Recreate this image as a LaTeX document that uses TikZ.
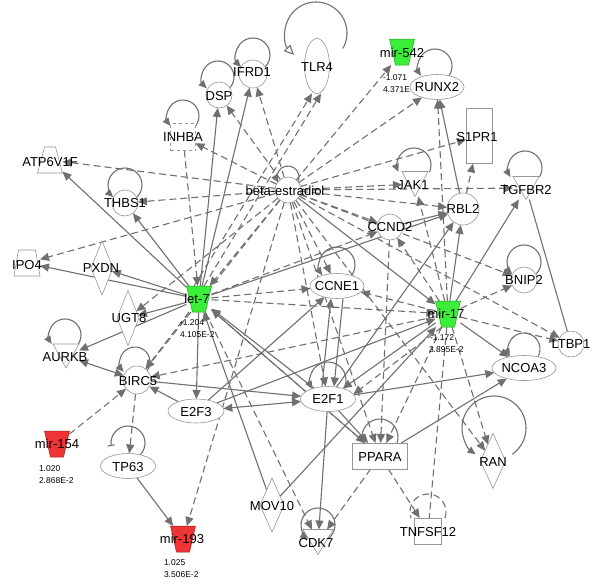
\documentclass[tikz,border=0pt]{standalone}
\usepackage{fontspec}
\setmainfont{Liberation Sans}
\usetikzlibrary{shapes.geometric,arrows.meta}
\pgfdeclarelayer{back}
\pgfdeclarelayer{bg}
\pgfdeclarelayer{lp}
\pgfsetlayers{back,bg,lp,main}
\definecolor{edgec}{RGB}{112,112,112}
\definecolor{nodec}{RGB}{150,150,150}
\definecolor{mgreen}{RGB}{58,238,58}
\definecolor{mred}{RGB}{238,52,52}
\tikzset{
  every node/.style={inner sep=0pt, outer sep=0pt},
  nd/.style={draw=nodec, fill=white, line width=0.6pt},
  circ/.style={nd, circle, minimum size=#1},
  ell/.style 2 args={nd, ellipse, minimum width=#1, minimum height=#2},
  dia/.style 2 args={nd, diamond, minimum width=#1, minimum height=#2},
  box/.style 2 args={nd, rectangle, minimum width=#1, minimum height=#2},
  ghost/.style 2 args={rectangle, minimum width=#1, minimum height=#2},
  lab/.style={font=\fontsize{13}{13}\selectfont},
  val/.style={font=\fontsize{8.5}{9}\selectfont, anchor=west},
  sol/.style={draw=edgec, line width=1.1pt, -{Triangle[length=9pt,width=8pt]}},
  das/.style={sol, dash pattern=on 7pt off 4pt},
  tipboth/.style={{Triangle[length=9pt,width=8pt]}-{Triangle[length=9pt,width=8pt]}},
  lps/.style={draw=edgec, line width=1.1pt, -{Triangle[length=8pt,width=7pt]}},
}
\newcommand\selfloop[6][]{%
  \draw[lps,#1] ([shift={(#5:#4pt)}]#2,#3) arc[start angle=#5, end angle=#6, radius=#4pt];}
\newcommand\mirnode[4]{%
  \node[ghost={25pt}{26pt}] (#1) at (#2,#3) {};
  \filldraw[fill=#4, draw=#4!65!black, line width=0.5pt] (#1.north west) -- (#1.north east) -- ([xshift=-6pt]#1.south east) -- ([xshift=6pt]#1.south west) -- cycle;}
\newcommand\trinode[5]{%
  \node[ghost={#4pt}{#5pt}] (#1) at (#2,#3) {};
  \filldraw[nd] (#1.north west) -- (#1.north east) -- (#1.south) -- cycle;}
\begin{document}
\begin{tikzpicture}[x=1pt,y=-1pt]
\begin{pgfonlayer}{back}
\fill[white] (0,0) rectangle (600,584);
\end{pgfonlayer}
\useasboundingbox (0,0) rectangle (600,584);

% ---------------- nodes ----------------
\node[circ=26pt] (be) at (288,190) {};
\node[ell={25pt}{55pt}] (tlr4) at (317,66) {};
\node[circ=28pt] (ifrd1) at (253,74) {};
\node[circ=26pt] (dsp) at (219,95) {};
\node[box={25pt}{27pt}, dashed] (inhba) at (183,137) {};
\mirnode{mir542}{402}{52}{mgreen}
\node[val] at (383,78) {-1.071};
\node[val] at (383,90) {4.371E-2};
\node[ell={54pt}{25pt}] (runx2) at (437,87) {};
\node[box={26pt}{55pt}] (s1pr1) at (479,136) {};
\node[ghost={25pt}{26pt}] (atp) at (50,160) {};
\filldraw[nd] (atp.south west) -- (atp.south east) -- ([xshift=-7pt]atp.north east) -- ([xshift=7pt]atp.north west) -- cycle;
\node[circ=26pt] (thbs1) at (125,203) {};
\trinode{jak1}{415}{184}{26}{25}
\trinode{tgfbr2}{526}{188}{26}{23}
\node[circ=32pt] (rbl2) at (463,209) {};
\node[circ=26pt] (ccnd2) at (390,227) {};
\node[ghost={26pt}{26pt}] (ipo4) at (27,263) {};
\filldraw[nd] (ipo4.south west) -- (ipo4.south east) -- ([xshift=-4.5pt]ipo4.north east) -- ([xshift=4.5pt]ipo4.north west) -- cycle;
\node[dia={22pt}{54pt}] (pxdn) at (102,268) {};
\node[circ=26pt] (bnip2) at (524,280) {};
\node[ell={54pt}{25pt}] (ccne1) at (337,286) {};
\mirnode{let7}{199}{299}{mgreen}
\mirnode{mir17}{448}{314}{mgreen}
\node[dia={22pt}{55pt}] (ugt8) at (128,318) {};
\node[circ=26pt] (ltbp1) at (571,344) {};
\trinode{aurkb}{66}{356}{26}{24}
\node[ell={64pt}{25pt}] (ncoa3) at (524,368) {};
\node[circ=28pt] (birc5) at (137,380) {};
\node[ell={55pt}{25pt}] (e2f1) at (328,399) {};
\node[ell={56pt}{24pt}] (e2f3) at (196,411) {};
\mirnode{mir154}{57}{444}{mred}
\node[box={55pt}{26pt}] (ppara) at (380,456) {};
\node[dia={25pt}{55pt}] (ran) at (493,461) {};
\node[ell={55pt}{25pt}] (tp63) at (128,466) {};
\node[dia={24pt}{54pt}] (mov10) at (272,505) {};
\trinode{cdk7}{318}{542}{30}{25}
\node[box={27pt}{26pt}] (tnfsf12) at (428,531) {};
\mirnode{mir193}{183}{539}{mred}

% ---------------- labels ----------------
\node[lab] at (285,191) {beta-estradiol};
\node[lab] at (317,67) {TLR4};
\node[lab] at (252,72) {IFRD1};
\node[lab] at (219,96) {DSP};
\node[lab] at (183,137) {INHBA};
\node[lab] at (402,53) {mir-542};
\node[lab] at (437,87) {RUNX2};
\node[lab] at (477,137) {S1PR1};
\node[lab] at (50,162) {ATP6V1F};
\node[lab] at (125,203) {THBS1};
\node[lab] at (413,185) {JAK1};
\node[lab] at (526,190) {TGFBR2};
\node[lab] at (463,209) {RBL2};
\node[lab] at (390,227) {CCND2};
\node[lab] at (27,265) {IPO4};
\node[lab] at (101,268) {PXDN};
\node[lab] at (524,280) {BNIP2};
\node[lab] at (337,286) {CCNE1};
\node[lab] at (197,299) {let-7};
\node[lab] at (446,314) {mir-17};
\node[lab] at (129,318) {UGT8};
\node[lab] at (571,344) {LTBP1};
\node[lab] at (65,357) {AURKB};
\node[lab] at (524,368) {NCOA3};
\node[lab] at (138,381) {BIRC5};
\node[lab] at (328,399) {E2F1};
\node[lab] at (196,412) {E2F3};
\node[lab] at (57,444) {mir-154};
\node[lab] at (380,457) {PPARA};
\node[lab] at (493,462) {RAN};
\node[lab] at (128,467) {TP63};
\node[lab] at (272,506) {MOV10};
\node[lab] at (316,543) {CDK7};
\node[lab] at (428,532) {TNFSF12};
\node[lab] at (182,539) {mir-193};
\node[val] at (180,323) {-1.204};
\node[val] at (180,335) {4.105E-2};
\node[val] at (430,338) {-1.172};
\node[val] at (429,350) {3.895E-2};
\node[val] at (39,469) {1.020};
\node[val] at (39,481) {2.868E-2};
\node[val] at (164,563) {1.025};
\node[val] at (164,575) {3.506E-2};

% ---------------- self loops ----------------
\begin{pgfonlayer}{lp}
\selfloop[-{Triangle[open,length=10pt,width=9pt]}]{316}{33}{31}{-30}{225}
\selfloop{253}{55}{17}{-45}{225}
\selfloop{218}{77}{16}{-45}{225}
\selfloop{183}{116}{16}{-38}{218}
\selfloop{125}{185}{17}{-46}{226}
\selfloop{288}{177}{11}{-31}{211}
\selfloop{435}{66}{17}{-35}{215}
\selfloop{414}{165}{17}{-24}{204}
\selfloop{525}{168}{17}{-32}{212}
\selfloop{524}{262}{17}{-46}{226}
\selfloop{337}{265}{18}{-35}{215}
\selfloop{65}{335}{16}{-34}{214}
\selfloop{135}{362}{15}{-41}{221}
\selfloop{524}{349}{16}{-28}{208}
\selfloop{328}{380}{18}{-30}{210}
\selfloop{380}{437}{18}{-19}{199}
\selfloop{494}{428}{32}{-55}{235}
\selfloop[-{Bar[width=7pt]}]{128}{443}{17}{-45}{190}
\selfloop{318}{525}{17}{-55}{235}
\selfloop[-, dash pattern=on 7pt off 4pt]{428}{512}{18}{-20}{200}
\end{pgfonlayer}

% ---------------- edges ----------------
\begin{pgfonlayer}{bg}
% beta-estradiol
\foreach \t in {inhba,dsp,ifrd1,mir542,runx2,s1pr1,jak1,tgfbr2,rbl2,ccnd2,bnip2,ltbp1,atp,thbs1,ipo4,ugt8,birc5,let7,ccne1,e2f1,ppara,mir193,ran}
  \draw[das] (be) -- (\t);
\draw[sol] (be) -- (mir17);
% let-7
\foreach \t in {thbs1,atp,ipo4,pxdn,ugt8,aurkb,dsp,ifrd1,e2f3,rbl2}
  \draw[sol] (let7) -- (\t);
\foreach \t in {birc5,ccne1,mir17,cdk7,ppara,ccnd2}
  \draw[das] (let7) -- (\t);
\draw[das] ([xshift=-5pt]let7.north) -- ([xshift=-5pt]tlr4.south);
\draw[das] ([xshift=5pt]let7.north) -- ([xshift=4pt]tlr4.south);
\draw[das] (inhba) -- (let7);
\draw[sol] (mov10) -- (let7);
\draw[sol] (e2f1) -- (let7);
\draw[sol] (ppara) -- (let7);
% mir-17
\foreach \t in {rbl2,tgfbr2,ncoa3,e2f1}
  \draw[sol] (mir17) -- (\t);
\foreach \t in {bnip2,ltbp1,ccne1,ppara,ran,runx2,jak1,ccnd2,birc5}
  \draw[das] (mir17) -- (\t);
\draw[das] ([xshift=-6pt]mir17.south) -- ([xshift=6pt,yshift=-4pt]e2f1.north east);
\draw[das,-] (mir17) -- (tnfsf12);
\draw[sol] (e2f3) -- (mir17);
\draw[sol] (mov10) -- (mir17);
% others
\draw[sol,tipboth] (aurkb) -- (birc5);
\draw[sol] (e2f3) -- (birc5);
\draw[sol] (birc5) -- (e2f1);
\draw[sol,tipboth] (e2f3) -- (e2f1);
\draw[sol] (e2f3) -- (ccne1);
\draw[sol] ([xshift=-6pt]e2f1.north) -- ([xshift=-6pt]ccne1.south);
\draw[sol] ([xshift=6pt]ccne1.south) -- ([xshift=6pt]e2f1.north);
\draw[sol] (e2f1) -- (ppara);
\draw[sol] (e2f1) -- (ncoa3);
\draw[sol] (e2f1) -- (cdk7);
\draw[sol] (e2f1) -- (rbl2);
\draw[das] (ppara) -- (cdk7);
\draw[das] (ppara) -- (tnfsf12);
\draw[sol] (ppara) -- (ncoa3);
\draw[das] (ccnd2) -- (ppara);
\draw[sol] (tp63) -- (mir193);
\draw[das] (birc5) -- (tp63);
\draw[das] (mir154) -- (birc5);
\draw[sol] (rbl2) -- (runx2);
\draw[das] (rbl2) -- (s1pr1);
\draw[sol] (ccnd2) -- (rbl2);
\draw[sol,-] (tgfbr2) -- (ltbp1);
\end{pgfonlayer}
\end{tikzpicture}
\end{document}
